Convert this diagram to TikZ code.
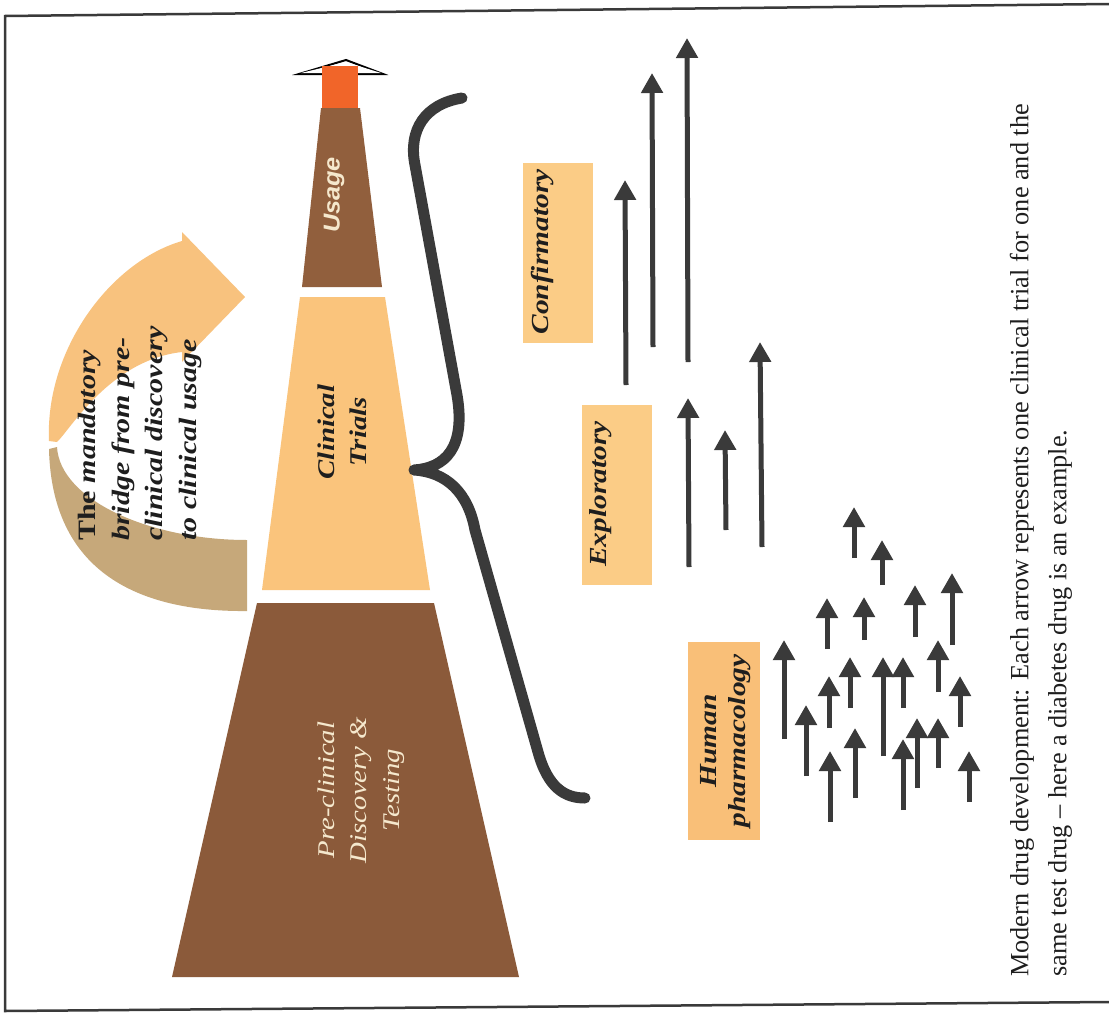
\documentclass[tikz,border=0pt]{standalone}
\usepackage{fontspec}
\setmainfont{Liberation Serif}
\newfontfamily\labfont[FakeStretch=1.2]{Liberation Serif}
\newfontfamily\usagefont[FakeStretch=1.1]{Liberation Sans}
\usetikzlibrary{arrows.meta}
\definecolor{brownA}{HTML}{8B5A3A}
\definecolor{brownB}{HTML}{915F3D}
\definecolor{clinorange}{HTML}{FAC47C}
\definecolor{tanc}{HTML}{C6A87A}
\definecolor{headorange}{HTML}{F8C27E}
\definecolor{redorange}{HTML}{F16529}
\definecolor{boxorange}{HTML}{FBCC86}
\definecolor{boxhuman}{HTML}{F9BF78}
\definecolor{arrowgray}{HTML}{3A3A3A}
\definecolor{creamtext}{HTML}{F5E8CD}
\definecolor{darktext}{HTML}{1E1E1E}
\begin{document}
\begin{tikzpicture}[x=1pt,y=-1pt,
  frame/.style={draw=arrowgray,line width=2.5pt},
  trial/.style={draw=arrowgray,line width=5pt,-{Triangle[width=21pt,length=20pt]}},
  phasebox/.style={fill=boxorange,draw=none},
  labeltext/.style={rotate=90,inner sep=0pt,text=darktext,align=center,
     font=\labfont\bfseries\itshape\fontsize{24.5}{30}\selectfont},
  bracestyle/.style={draw=arrowgray,line width=11pt,line cap=round,line join=round}]
\useasboundingbox (0,0) rectangle (1109,1015);
\fill[white] (0,0) rectangle (1109,1015);

% frame
\draw[frame] (1109,4) -- (5,16) -- (5,1011) -- (1109,1002);

% curved bridge arrow: back (tan) part
\fill[tanc] (57,447) .. controls (60,500) and (150,540) .. (247,540)
   -- (247,611) .. controls (150,612) and (52,580) .. (49,449) -- cycle;
% front (orange) part with head
\fill[headorange] (49,441) .. controls (45,350) and (110,262) .. (182,241)
   -- (182,232) -- (245,297) -- (182,362) -- (182,352)
   .. controls (110,360) and (70,430) .. (57,442) -- cycle;

% pre-clinical trapezoid
\fill[brownA] (257,603) -- (434,603) -- (519,977) -- (172,977) -- cycle;
% clinical trials trapezoid
\fill[clinorange] (300,297) -- (385,297) -- (430,590) -- (262,590) -- cycle;
% usage trapezoid with head
\draw[black,line width=2pt,line join=miter] (299,74) -- (346,60) -- (383,74) -- cycle;
\fill[white] (301,73) -- (346,62) -- (381,73) -- cycle;
\fill[redorange] (322,66) -- (358,66) -- (358,108) -- (322,108) -- cycle;
\fill[brownB] (321,108) -- (360,108) -- (382,287) -- (302,287) -- cycle;

% labels in the pyramid
\node[rotate=90,inner sep=0pt,text=creamtext,
  font=\usagefont\bfseries\itshape\fontsize{23}{26}\selectfont] (usage) at (334,195) {Usage};
\node[labeltext,font=\labfont\bfseries\itshape\fontsize{24}{32}\selectfont] (clin) at (342,432) {Clinical\\Trials};
\node[rotate=90,inner sep=0pt,text=creamtext,align=center,
  font=\labfont\itshape\fontsize{24}{32.5}\selectfont] (pre) at (361,790) {Pre-clinical\\Discovery \&\\Testing};

% bridge text
\node[rotate=90,anchor=west,inner sep=0pt,align=left,text=darktext,
  font=\labfont\bfseries\fontsize{25}{33.5}\selectfont] (bridge) at (140,541)
  {The \textit{mandatory}\\\textit{bridge from pre-}\\\textit{clinical discovery}\\\textit{to clinical usage}};

% brace
\draw[bracestyle] (462,98) .. controls (425,104) and (408,130) .. (415,165)
   -- (457,395) .. controls (466,448) and (445,468) .. (414,470)
   .. controls (446,472) and (468,492) .. (475,530)
   -- (538,752) .. controls (548,788) and (565,798) .. (585,798);

% phase boxes
\fill[phasebox] (523,163) rectangle (593,343);
\fill[phasebox] (582,405) rectangle (652,585);
\fill[boxhuman] (688,642) rectangle (760,840);
\node[labeltext] (conf) at (543,252) {Confirmatory};
\node[labeltext] (expl) at (601,494) {Exploratory};
\node[labeltext,font=\labfont\bfseries\itshape\fontsize{24.5}{29}\selectfont] (hum) at (726,741) {Human\\pharmacology};

% trial arrows: confirmatory / exploratory
\foreach \xa/\ya/\xb/\yb in {626/385/625/180, 653/347/652/73, 688/362/687/38,
   762/547/760/342, 689/567/688/398, 726/530/725/430}
  \draw[trial] (\xa,\ya) -- (\xb,\yb);
% human pharmacology cluster
\foreach \xx/\ya/\yb in {854/558/507, 882/585/540, 952/645/573, 915/637/585,
   827/649/598, 864/640/597, 784/739/640, 938/692/640, 850/708/657, 883/756/657,
   903/708/657, 829/728/676, 960/727/676, 806/776/705, 917/788/718, 938/768/718,
   855/798/728, 903/810/739, 830/822/751, 969/802/751}
  \draw[trial] (\xx,\ya) -- (\xx,\yb);

% caption
\node[rotate=90,anchor=west,inner sep=0pt,align=left,text=darktext,
  font=\fontsize{26.3}{38}\selectfont] (caption) at (1041,977)
  {Modern drug development: Each arrow represents one clinical trial for one and the\\
   same test drug -- here a diabetes drug is an example.};
\end{tikzpicture}
\end{document}
